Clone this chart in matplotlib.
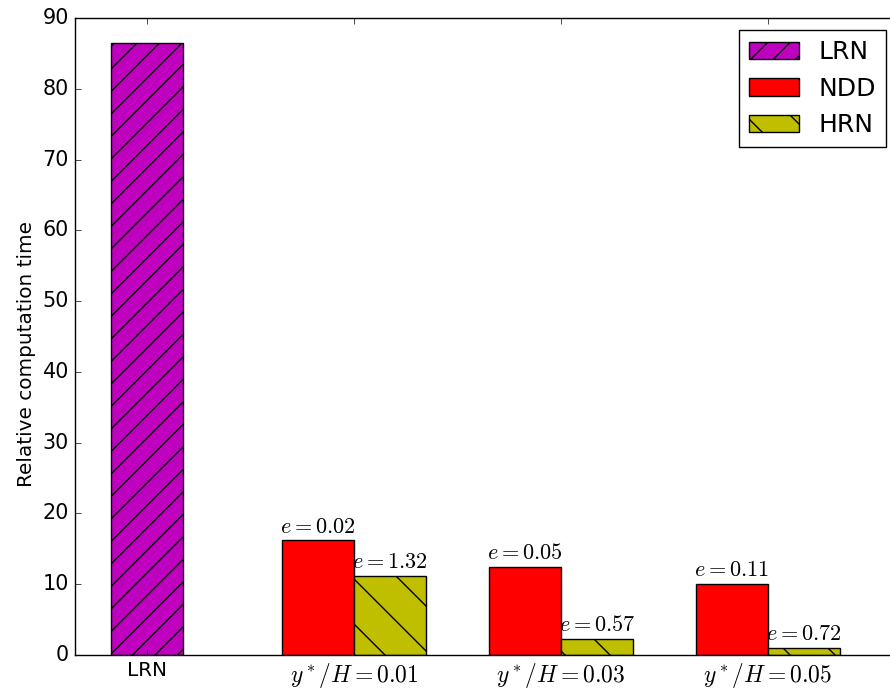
import numpy as np
import matplotlib
matplotlib.use("Agg")
import matplotlib.pyplot as plt

plt.style.use('classic')

# rendered at 270 dpi so the hatch spacing comes out right; sizes scaled back
DPI = 270
k = 100.0 / DPI

plt.rcParams.update({
    'font.size': 14.4 * k,
    'ytick.labelsize': 15 * k,
    'axes.linewidth': 1.0 * k,
    'patch.linewidth': 1.0 * k,
    'hatch.linewidth': 1.0 * k,
    'lines.linewidth': 1.0 * k,
    'xtick.major.size': 4 * k, 'xtick.major.width': 0.5 * k, 'xtick.major.pad': 4 * k,
    'ytick.major.size': 4 * k, 'ytick.major.width': 0.5 * k, 'ytick.major.pad': 4 * k,
    'xtick.minor.size': 2 * k, 'ytick.minor.size': 2 * k,
    'axes.labelpad': 5 * k,
})

tick_labels = ['LRN', '$y^*/H=0.01$', '$y^*/H=0.03$', '$y^*/H=0.05$']
lrn_time = [86.5]
ndd_time = [16.2, 12.5, 10.1]
hrn_time = [11.2, 2.3, 1.0]
ndd_err = ['$e=0.02$', '$e=0.05$', '$e=0.11$']
hrn_err = ['$e=1.32$', '$e=0.57$', '$e=0.72$']

width = 0.35
x = np.arange(1, 4)

fig = plt.figure(figsize=(890.0 / DPI, 691.0 / DPI), dpi=DPI, facecolor='w')
ax = fig.add_axes([74.5 / 890, 36.0 / 691, (899 - 74.5) / 890, (655 - 18.0) / 691])

ax.bar([0], lrn_time, width, align='center', color='m', hatch='////', label='LRN')
ax.bar(x - width, ndd_time, width, align='edge', color='r', label='NDD')
ax.bar(x, hrn_time, width, align='edge', color='y', hatch='\\\\', label='HRN')

for xi, h, s in zip(x, ndd_time, ndd_err):
    ax.text(xi - width / 2, h + 0.5, s, ha='center', va='bottom', fontsize=16 * k)
for xi, h, s in zip(x, hrn_time, hrn_err):
    ax.text(xi + width / 2, h + 0.5, s, ha='center', va='bottom', fontsize=16 * k)

ax.set_xticks(np.arange(4))
ax.set_xticklabels(tick_labels)
for lab in ax.get_xticklabels()[1:]:
    lab.set_fontsize(17 * k)
ax.set_xlim(-0.35, 3.633)
ax.set_ylim(0, 90)
ax.set_ylabel('Relative computation time')
ax.yaxis.label.set_y(0.473)
ax.legend(loc='upper right', fontsize=18 * k)

fig.savefig('out.png', dpi=DPI, facecolor='w')
